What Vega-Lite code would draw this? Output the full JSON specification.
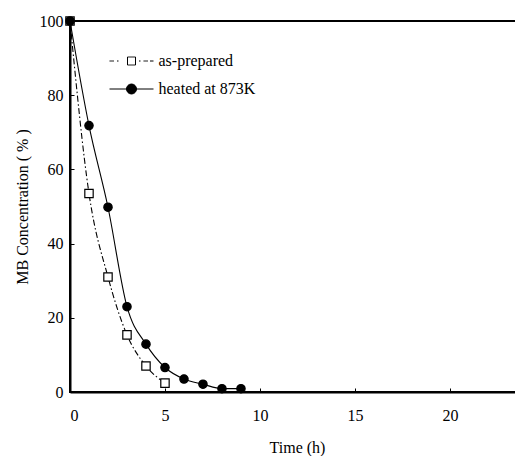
{
  "$schema": "https://vega.github.io/schema/vega-lite/v6.json",
  "width": 454,
  "height": 371,
  "autosize": {"type": "none"},
  "padding": {"left": 70, "top": 21, "right": 0, "bottom": 64},
  "background": "white",
  "config": {
    "view": {"stroke": "black", "strokeWidth": 2},
    "axis": {
      "domainColor": "black", "domainWidth": 2, "tickColor": "black", "tickWidth": 1,
      "labelFont": "Liberation Serif", "labelFontSize": 16, "labelColor": "black",
      "titleFont": "Liberation Serif", "titleFontSize": 16, "titleFontWeight": "normal", "titleColor": "black",
      "grid": false
    }
  },
  "data": {"values": [
    {"t": 0, "c": 100, "s": "as-prepared"},
    {"t": 1, "c": 53.5, "s": "as-prepared"},
    {"t": 2, "c": 31, "s": "as-prepared"},
    {"t": 3, "c": 15.4, "s": "as-prepared"},
    {"t": 4, "c": 7, "s": "as-prepared"},
    {"t": 5, "c": 2.4, "s": "as-prepared"},
    {"t": 0, "c": 100, "s": "heated at 873K"},
    {"t": 1, "c": 71.8, "s": "heated at 873K"},
    {"t": 2, "c": 49.8, "s": "heated at 873K"},
    {"t": 3, "c": 23, "s": "heated at 873K"},
    {"t": 4, "c": 12.9, "s": "heated at 873K"},
    {"t": 5, "c": 6.6, "s": "heated at 873K"},
    {"t": 6, "c": 3.5, "s": "heated at 873K"},
    {"t": 7, "c": 2.1, "s": "heated at 873K"},
    {"t": 8, "c": 0.9, "s": "heated at 873K"},
    {"t": 9, "c": 0.9, "s": "heated at 873K"}
  ]},
  "encoding": {
    "x": {"field": "t", "type": "quantitative", "title": "Time (h)",
      "scale": {"domain": [0, 23.9], "nice": false, "zero": false},
      "axis": {"values": [0, 5, 10, 15, 20], "tickSize": -4, "labelPadding": 27, "labelBaseline": "middle", "titleY": 55, "titleBaseline": "middle"}},
    "y": {"field": "c", "type": "quantitative", "title": "MB Concentration ( % )",
      "scale": {"domain": [0, 100], "nice": false},
      "axis": {"values": [0, 20, 40, 60, 80, 100], "tickSize": -4, "labelPadding": 11, "labelBaseline": "middle", "titleX": -48, "titleBaseline": "middle"}}
  },
  "layer": [
    {
      "transform": [{"filter": "datum.s == 'as-prepared'"}],
      "mark": {"type": "line", "interpolate": "monotone", "strokeWidth": 1.1},
      "encoding": {
        "strokeDash": {"value": [6, 2.5, 1.5, 2.5]},
        "stroke": {"field": "s", "type": "nominal",
          "scale": {"domain": ["as-prepared"], "range": ["black"]},
          "legend": {"orient": "none", "legendX": 53.5, "legendY": 32, "title": null, "padding": 0,
            "symbolType": "M-22,0L-17.5,0M-14.5,0L-13,0M-4,-4L4,-4L4,4L-4,4ZM7.5,0L9,0M12,0L16.5,0M18.5,0L22,0",
            "symbolSize": 4, "symbolOffset": 0, "labelOffset": 19,
            "symbolFillColor": "white", "symbolStrokeWidth": 1, "symbolDash": [1, 0],
            "labelFont": "Liberation Serif", "labelFontSize": 16, "labelColor": "black"}}
      }
    },
    {
      "transform": [{"filter": "datum.s == 'heated at 873K'"}],
      "mark": {"type": "line", "interpolate": "monotone", "color": "black", "strokeWidth": 1.1}
    },
    {
      "transform": [{"filter": "datum.s == 'as-prepared'"}],
      "mark": {"type": "point", "shape": "square", "filled": true, "fill": "white", "stroke": "black", "strokeWidth": 1.2, "opacity": 1, "size": 70}
    },
    {
      "transform": [{"filter": "datum.s == 'heated at 873K'"}],
      "mark": {"type": "point", "shape": "circle", "filled": true, "stroke": "black", "strokeWidth": 1.2, "opacity": 1, "size": 70},
      "encoding": {
        "fill": {"field": "s", "type": "nominal",
          "scale": {"domain": ["heated at 873K"], "range": ["black"]},
          "legend": {"orient": "none", "legendX": 53.5, "legendY": 60, "title": null, "padding": 0,
            "symbolType": "M-22,0L22,0M-5,0A5,5 0 1,0 5,0A5,5 0 1,0 -5,0Z",
            "symbolSize": 4, "symbolOffset": 0, "labelOffset": 19,
            "symbolStrokeColor": "black", "symbolStrokeWidth": 1,
            "labelFont": "Liberation Serif", "labelFontSize": 16, "labelColor": "black"}}
      }
    }
  ]
}
